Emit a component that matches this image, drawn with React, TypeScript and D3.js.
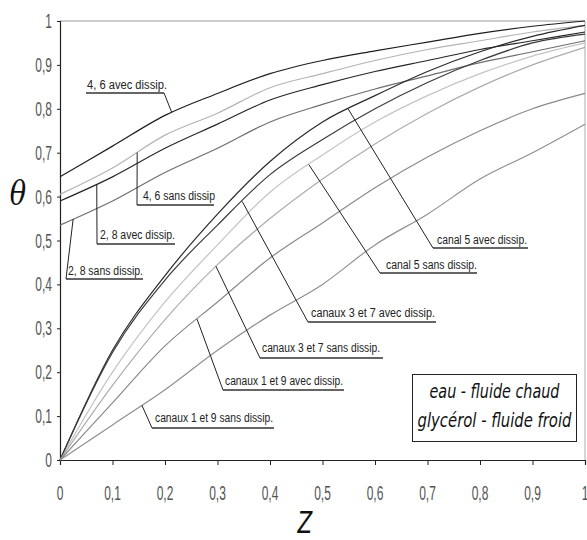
import React, { useEffect, useRef } from "react";
import * as d3 from "d3";

// abscissa Z
const zValues = [0, 0.1, 0.2, 0.3, 0.4, 0.5, 0.6, 0.7, 0.8, 0.9, 1];

// theta, channels 4-6 and 2-8
const c46avec = [0.645, 0.715, 0.785, 0.835, 0.88, 0.91, 0.932, 0.952, 0.972, 0.988, 1.0];
const c46sans = [0.605, 0.665, 0.74, 0.79, 0.848, 0.88, 0.91, 0.935, 0.955, 0.975, 0.99];
const c28avec = [0.59, 0.645, 0.71, 0.765, 0.82, 0.855, 0.885, 0.91, 0.935, 0.955, 0.975];
const c28sans = [0.535, 0.59, 0.655, 0.71, 0.77, 0.81, 0.845, 0.875, 0.905, 0.93, 0.955];

// theta, channels 5, 3-7, 1-9
const c5avec = [0, 0.25, 0.42, 0.56, 0.68, 0.77, 0.83, 0.885, 0.93, 0.965, 0.99];
const c5sans = [0, 0.2, 0.36, 0.49, 0.61, 0.695, 0.77, 0.83, 0.88, 0.92, 0.95];
const c37avec = [0, 0.245, 0.41, 0.535, 0.65, 0.73, 0.8, 0.86, 0.91, 0.95, 0.97];
const c37sans = [0, 0.17, 0.32, 0.445, 0.55, 0.64, 0.72, 0.79, 0.85, 0.9, 0.94];
const c19avec = [0, 0.13, 0.26, 0.36, 0.46, 0.54, 0.62, 0.69, 0.75, 0.8, 0.835];
const c19sans = [0, 0.08, 0.16, 0.25, 0.33, 0.4, 0.49, 0.56, 0.64, 0.7, 0.765];

const tickValues = [0, 0.1, 0.2, 0.3, 0.4, 0.5, 0.6, 0.7, 0.8, 0.9, 1];
const tickLabels = ["0", "0,1", "0,2", "0,3", "0,4", "0,5", "0,6", "0,7", "0,8", "0,9", "1"];

const legendLines = ["eau - fluide chaud", "glycérol - fluide froid"];

const series = [
  { key: "46avec", values: c46avec, color: "#1e1e1e" },
  { key: "46sans", values: c46sans, color: "#b4b4b4" },
  { key: "28avec", values: c28avec, color: "#262626" },
  { key: "28sans", values: c28sans, color: "#6e6e6e" },
  { key: "5avec", values: c5avec, color: "#2a2a2a" },
  { key: "5sans", values: c5sans, color: "#c4c4c4" },
  { key: "37avec", values: c37avec, color: "#3c3c3c" },
  { key: "37sans", values: c37sans, color: "#adadad" },
  { key: "19avec", values: c19avec, color: "#8a8a8a" },
  { key: "19sans", values: c19sans, color: "#909090" },
];

// annotations: text, series pointed at, z of the point, and the label layout
const notes = [
  { text: "4, 6 avec dissip.", key: "46avec", z: 0.213, tx: 87, ty: 89, w: 80, ux1: 86, ux2: 164, uy: 93, from: "right" },
  { text: "4, 6 sans dissip", key: "46sans", z: 0.147, tx: 143, ty: 200, w: 72, ux1: 137, ux2: 214, uy: 205, from: "left" },
  { text: "2, 8 avec dissip.", key: "28avec", z: 0.07, tx: 100, ty: 239, w: 75, ux1: 97, ux2: 175, uy: 244, from: "left" },
  { text: "2, 8 sans dissip.", key: "28sans", z: 0.025, tx: 68, ty: 275, w: 75, ux1: 66, ux2: 143, uy: 279, from: "left" },
  { text: "canal 5 avec dissip.", key: "5avec", z: 0.549, tx: 437, ty: 244, w: 90, ux1: 433, ux2: 528, uy: 248, from: "left" },
  { text: "canal 5 sans dissip.", key: "5sans", z: 0.474, tx: 386, ty: 269, w: 91, ux1: 380, ux2: 477, uy: 273, from: "left" },
  { text: "canaux 3 et 7 avec dissip.", key: "37avec", z: 0.347, tx: 311, ty: 317, w: 124, ux1: 308, ux2: 436, uy: 322, from: "left" },
  { text: "canaux 3 et 7 sans dissip.", key: "37sans", z: 0.297, tx: 262, ty: 352, w: 118, ux1: 260, ux2: 383, uy: 358, from: "left" },
  { text: "canaux 1 et 9 avec dissip.", key: "19avec", z: 0.261, tx: 225, ty: 385, w: 118, ux1: 223, ux2: 344, uy: 390, from: "left" },
  { text: "canaux 1 et 9 sans dissip.", key: "19sans", z: 0.156, tx: 155, ty: 422, w: 118, ux1: 152, ux2: 274, uy: 428, from: "left" },
];

const W = 587, H = 540;
const margin = { top: 21, right: 2, bottom: 80, left: 60 };

export default function App() {
  const ref = useRef<SVGSVGElement>(null);

  useEffect(() => {
    const svg = d3.select(ref.current);
    svg.selectAll("*").remove();
    const w = W - margin.left - margin.right;
    const h = H - margin.top - margin.bottom;

    const x = d3.scaleLinear().domain([0, 1]).range([margin.left, margin.left + w]);
    const y = d3.scaleLinear().domain([0, 1]).range([margin.top + h, margin.top]);

    svg.append("rect").attr("width", W).attr("height", H).attr("fill", "#fff");

    // frame top / right
    svg.append("line").attr("x1", x(0)).attr("x2", x(1)).attr("y1", y(1)).attr("y2", y(1))
      .attr("stroke", "#999").attr("stroke-width", 1);
    svg.append("line").attr("x1", x(1)).attr("x2", x(1)).attr("y1", y(1)).attr("y2", y(0))
      .attr("stroke", "#aaa").attr("stroke-width", 1);

    // axes
    const xAxis = svg.append("g").attr("transform", `translate(0,${y(0)})`)
      .call(d3.axisBottom(x).tickValues(tickValues).tickSize(5).tickFormat(() => ""));
    const yAxis = svg.append("g").attr("transform", `translate(${x(0)},0)`)
      .call(d3.axisLeft(y).tickValues(tickValues).tickSize(3).tickFormat(() => ""));
    [xAxis, yAxis].forEach(g => {
      g.select(".domain").attr("stroke", "#222").attr("stroke-width", 1.2);
      g.selectAll(".tick line").attr("stroke", "#222");
    });

    const labelFont = "'Liberation Sans', Arial, sans-serif";
    svg.append("g").selectAll("text").data(tickValues).join("text")
      .attr("transform", (d) => `translate(${x(d)},${y(0) + 40}) scale(0.6,1)`)
      .attr("text-anchor", "middle").attr("font-family", labelFont).attr("font-size", 20)
      .attr("fill", "#555")
      .text((d, i) => tickLabels[i]);
    svg.append("g").selectAll("text").data(tickValues).join("text")
      .attr("transform", (d) => `translate(${x(0) - 8},${y(d) + 7}) scale(0.6,1)`)
      .attr("text-anchor", "end").attr("font-family", labelFont).attr("font-size", 20)
      .attr("fill", "#555")
      .text((d, i) => tickLabels[i]);

    // axis titles
    svg.append("text").attr("transform", `translate(18,205) scale(0.8,1)`)
      .attr("text-anchor", "middle").attr("font-family", "'DejaVu Serif', serif")
      .attr("font-style", "italic").attr("font-size", 34).attr("fill", "#111").text("θ");
    svg.append("text").attr("transform", `translate(305,533) scale(0.72,1)`)
      .attr("text-anchor", "middle").attr("font-family", "'DejaVu Sans', sans-serif")
      .attr("font-style", "italic").attr("font-size", 30).attr("fill", "#111").text("Z");

    // curves
    const line = d3.line<number>().x((d, i) => x(zValues[i])).y((d) => y(d)).curve(d3.curveMonotoneX);
    svg.append("g").selectAll("path").data(series).join("path")
      .attr("d", (d) => line(d.values))
      .attr("fill", "none").attr("stroke", (d) => d.color).attr("stroke-width", 1.2);

    // annotations
    const byKey = new Map(series.map(s => [s.key, s.values]));
    const valueAt = (vals: number[], z: number) => d3.scaleLinear().domain(zValues).range(vals)(z);
    const ann = svg.append("g");
    notes.forEach(n => {
      const vals = byKey.get(n.key) as number[];
      const px = x(n.z), py = y(valueAt(vals, n.z));
      const ax = n.from === "right" ? n.ux2 : n.ux1;
      ann.append("line").attr("x1", ax).attr("y1", n.uy).attr("x2", px).attr("y2", py)
        .attr("stroke", "#222").attr("stroke-width", 1);
      ann.append("line").attr("x1", n.ux1).attr("y1", n.uy).attr("x2", n.ux2).attr("y2", n.uy)
        .attr("stroke", "#333").attr("stroke-width", 1.3);
      ann.append("text").attr("x", n.tx).attr("y", n.ty)
        .attr("font-family", labelFont).attr("font-size", 12).attr("fill", "#222")
        .attr("textLength", n.w).attr("lengthAdjust", "spacingAndGlyphs")
        .text(n.text);
    });

    // legend box
    svg.append("rect").attr("x", 412.5).attr("y", 374.5).attr("width", 164).attr("height", 67)
      .attr("fill", "#fff").attr("stroke", "#222").attr("stroke-width", 1);
    const legW = [130, 154];
    svg.append("g").selectAll("text").data(legendLines).join("text")
      .attr("text-anchor", "middle").attr("font-family", "'DejaVu Sans', sans-serif")
      .attr("font-style", "italic").attr("font-size", 20).attr("fill", "#111")
      .text((d) => d)
      .attr("transform", function (d, i) {
        const len = (this as SVGTextElement).getComputedTextLength() || legW[i];
        return `translate(494.5,${398 + i * 29}) scale(${legW[i] / len},1)`;
      });
  }, []);

  return (
    <svg ref={ref} width={W} height={H} style={{ position: "absolute", left: 0, top: 0 }} />
  );
}
